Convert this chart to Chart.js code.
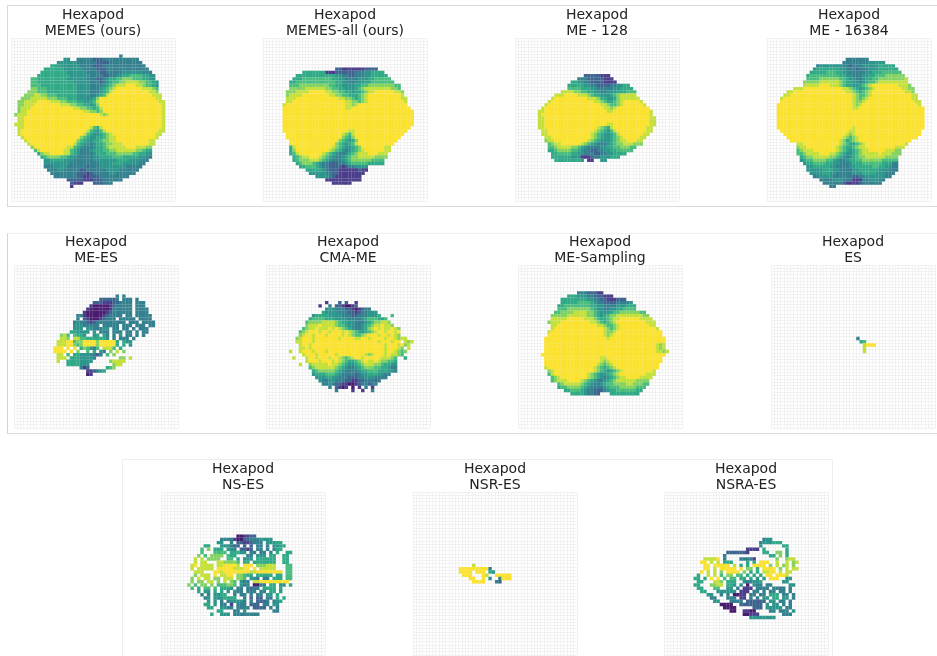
<!DOCTYPE html>
<html>
<head>
<meta charset="utf-8">
<script src="https://cdn.jsdelivr.net/npm/chart.js@4"></script>
<style>
  html, body { margin: 0; padding: 0; background: #fff; overflow: hidden; }
  body { width: 937px; height: 656px; position: relative; }
  canvas { position: absolute; filter: blur(0.6px); }
  .frame { position: absolute; box-sizing: border-box; }
</style>
</head>
<body>
<div class="frame" style="left:7px;top:5px;width:940px;height:202px;border:1px solid #d9d9d9"></div>
<div class="frame" style="left:7px;top:233px;width:940px;height:201px;border:1px solid #f0f0f0;border-left-color:#d4d4d4;border-bottom-color:#dcdcdc"></div>
<div class="frame" style="left:122px;top:459px;width:711px;height:210px;border:1px solid #eeeeee"></div>
<script>
// one string per row, "first column:cells". 0 = dark purple ... 9 = yellow, dot = empty, 9x12 = twelve cells of 9
const memesOurs = [
  '33:3',
  '16:44.. 3x5 2x3 3x11',
  '14:4x6 3x6 2x4 3x10',
  '12:5x3 4x6 3x4 2x3 3x13',
  '10:5x6 4x6 3x4 2x3 3x13',
  '9:5x8 4x6 3x4 2x2 3x5 4x6 3x3',
  '8:5x10 4x6 3x4 2x2 3x2 4x2 5x2 6x4 5x2 4x2',
  '6:6x2 5x9 4x6 3x3 2x2 3 4 5x2 6x2 7x3 6x3 5x2 4x2',
  '6:6x2 5x11 4x5 3x3 2 3 4 5 6x2 7x2 8x4 7x2 6x2 5 4',
  '6:6x3 5x11 4x4 3x3 3 4 5 6 7 8x3 9x3 8x2 7 6x2 5 4',
  '6:7x2 6x3 5x9 4x4 3x3 4 5 6 7 8 9x8 8x3 7 6',
  '5:7x3 6x3 5x9 4x4 3x3 4 5 6 8 9x11 8x2 7',
  '4:7x3 8x2 7x2 6x3 5x6 4x4 3x2 4 5 6 8 9x13 8x3',
  '3:7x3 8x5 7x3 6x3 5x3 4x3 3 4 5 7 9x17 8x2',
  '2:7x2 8x4 9x4 8x3 7x2 6x3 5x2 4x2 5 6 8 9x18 8x2',
  '2:7x2 8x3 9x8 8x3 7x2 6x2 5x2 4 5 7 9x19 8',
  '2:7 8x3 9x13 8x2 7x2 6x2 5 6 8 9x18 8',
  '2:7 8x2 9x17 8x2 7x2 6 7 9x18 8',
  '1:7 8x3 9x22 8 7 8 9x16 8',
  '2:8x2 9x42 8',
  '2:8x2 9x42 8',
  '1:8x3 9x42 8',
  '2:8x2 9x20 8 6 5 8 9x18 8',
  '2:8 9x20 8 6 5 4 6 8 9x16 8x2',
  '2:8 9x19 8 6 5 4 4 5 6 7 8 9x13 8x2',
  '3:8 9x17 7 6 5 4 4 5 5 6 7 8x2 9x12 8',
  '4:8 9x15 7 6 5 4x2 5x2 6 7x2 8x2 9x10 8x2',
  '5:8 9x13 8 6 5 4x2 3 4 5x2 6 7x2 8x3 9x8 8x2',
  '6:7 9x10 8x2 6 5 4 3x3 4 5x2 6 7 8x2 8x3 9x3 8x3 7x2',
  '7:6 8 9x7 8x2 6 5 4 3x3 4 5x3 6x2 7x2 8x6 7x2 6 5x2',
  '8:5 7 8x2 9x4 8x2 6 5 4 3x4 4 5x3 6x3 7x5 6x2 5x2 4x2',
  '9:5 6 7x4 6x2 5 4x2 3x5 4x2 5x4 6x3 5x5 4x2 3x2',
  '10:4x2 5x4 4x3 3x6 4x3 4x4 5x4 4x4 3x2',
  '10:4x8 3x6 3x3 4x4 5x3 4x5 3x2',
  '10:3x3 4x4 3x6 2 3x3 4x5 4x3 3x5',
  '11:3x3 4x2 3x5 2x2 3x6 4x4 3x6',
  '12:3x8 2x3 1 2 3x5 4x2 3x6',
  '13:3x7 2x2 1x2 2x3 3x9',
  '17:2x5 1x3 2x3 3x6',
  '18:2 1x3 .x3 2x3 3x3',
  '18:1'
];
const memesAll = [
  '22:2x2 1x7 2x4',
  '12:5x7 1x3 2x6 3x3 4x2 5x4',
  '10:5x12 4x2 3x2 2x2 3x3 4x2 5x5',
  '9:5x3 6x9 5x2 4x2 3x4 4x3 5x2 6x5',
  '8:5x2 6x12 5x2 4x2 3x2 4x3 5x2 6x7',
  '8:6x3 7x9 6x2 5x2 4x4 5x2 6x2 7x8 6x2',
  '8:7x5 8x6 7x2 6x2 5x2 4x3 5 6 7 8x8 7x2 6',
  '7:7x3 8x4 9x5 8x2 7x2 6x2 5x2 4 5x2 6 7 8x2 9x6 8x2 7',
  '7:7 8x4 9x8 8x2 7x2 6x2 5x3 6 7 8 9x10 8',
  '7:8x3 9x13 8x2 7x2 6 5 6 7 8 9x10 8x2',
  '7:8x2 9x16 8x2 7x2 6 7 8 9x11 8',
  '6:8 9x18 8x2 7 8 9x15',
  '6:9x19 8x2 9x18',
  '6:9x40',
  '6:9x40',
  '6:9x40',
  '6:9x40',
  '6:9x40',
  '6:9x39',
  '6:9x20 8x2 9x16',
  '7:9x17 8 7 6 8 9x15',
  '7:9x17 7 6 5 7 9x14',
  '8:9x15 7 6 5 4 5 7 9x12',
  '8:9x14 7 6 5 4 5 6 8 9x11',
  '8:5 8 9x11 8 7 6 5 4 4 5 6 7 9x7 8x2',
  '8:5 7 9x10 8 7 6 5 4 3 4 5 6 7 8 9x6 8x2',
  '8:5 6 8 9x7 8 7 6 5 4 3x2 4 5 6 7 8x3 9x3 8x3',
  '9:5 6 7 8x2 9x3 8 7 6 5 4 3x2 4 5 6 7x2 8x5 7x4',
  '9:5 6 7x3 8x3 7 6 5 4 3x3 4 5 6 7x6 6x4',
  '10:5 6 7x3 6 5 4 3x2 2x3 3x2 4 5 6x5 5x5',
  '11:5x2 6x3 5 4 3x2 2x4 1 2 3x2 4x4',
  '13:5x5 4 3 2x3 1x6 2 1x2',
  '14:4x5 3x2 2x2 1x8',
  '16:4x4 3 2 1x8',
  '19:1x11',
  '21:1x6'
];
const me128 = [
  '21:2x5 1x3',
  '19:3x3 2x5 1x3',
  '17:5x2 4x2 3x2 2x4 1x4',
  '16:5x5 4x2 3x2 2x4 3x2 4x2 5x2',
  '16:6x4 5x3 4x2 3x5 4x2 5x4',
  '14:8x4 7x2 6x2 5x2 4x2 3x2 4x3 5x3 6x3',
  '12:8x3 9x4 8x3 7 6 5x2 4x3 5 6 7 8x5',
  '11:8 9x10 8x3 7 5x2 4x2 5 7 8x6',
  '10:8 9x13 8x2 7 6 5x2 6 7 8 9x5 8',
  '9:8 9x16 8x2 7 6x2 7 8 9x6 8',
  '8:8 9x18 8x2 7 8 9x10',
  '7:8x2 9x19 8x2 9x11 8',
  '7:8 9x33 8',
  '7:8x2 9x32 8x2',
  '7:8x2 9x32 8x2',
  '7:8x2 9x19 8x2 9x11 8x2',
  '7:8x2 9x16 8 7 6 5 8 9x10 8x2',
  '8:8x2 9x14 8 7 6 5 4 6 8 9x9 8x2',
  '8:8x2 9x13 8 7 6 5 4 4 5 6 8 9x7 8x2',
  '9:8x2 9x12 8 7 6 5 4 4 5 6 7 8 9x5 8x2',
  '9:7 8x2 9x10 8 7 6 5 4x3 5 6 7 8x2 9x3 8x2',
  '10:6 7 8x2 9x6 8 7 6 5 4 3x3 4 5 6 7x2 8x3 7x3',
  '10:6x2 7 8x4 7x2 6 5 4 3x4 4x2 5x2 6x2 7x3 6x2',
  '10:5x2 6 7x4 6x2 5 4 3x2 2x2 3x2 4x2 5x2 6x5',
  '11:5x2 6x4 5x2 4x2 3x3 2x2 3x2 4x2 5x4',
  '11:5x6 4x3 1x3 2 3x2 4x3 5x3',
  '12:5x8 4 . 1x2 .. 4x2'
];
const me16384 = [
  '24:3x7',
  '23:3x8 4x5',
  '15:3 4x7 3x2 2 3x3 4x5 5x5',
  '14:4 5x7 4x2 3x3 2 3x3 4x3 5x6',
  '13:5x5 6x3 5x2 4x2 3x2 3x3 4x2 5x3 6x6',
  '12:5 6x9 5x2 4x2 3x3 4x2 5x2 6x3 7x6',
  '12:6x4 7x6 6x2 5 4x2 3x2 4 5x2 6x2 7x8 8',
  '11:7x5 8x6 7 6 5x2 4x2 3 4 5 6x2 7 8x9',
  '11:8x5 9x3 8x3 7 6 5x2 4 4 5 6 7 8 9x8 8x3 7',
  '8:8x3 9x12 8x2 7 6 5 4 5 6 7 8 9x8 8x2 7x2',
  '6:8x2 9x16 8x2 7 6 5 6 7 8 9x10 8x2 7',
  '5:8x2 9x19 8 7 6 6 7 8 9x12 8x2',
  '4:8 9x21 8 7 6 7 8 9x13 8x2',
  '4:9x22 8 7 7 8 9x15 8x2',
  '3:9x23 8 7 8 9x17 8',
  '3:9x23 8x2 9x20',
  '3:9x45',
  '3:9x45',
  '3:9x45',
  '3:9x45',
  '3:9x45',
  '3:9x23 8 9x21',
  '4:9x21 8x2 9x20',
  '5:9x19 8 7 8 9x20',
  '6:9x17 8 7 6 7 8 9x18',
  '7:9x15 8 7 5 6 7 8 9x16',
  '9:8x2 9x11 8 7 6 5 5 6 7 8 9x12 8',
  '9:7 8x2 9x9 8 7 6 5x2 6 7 8 8 9x9 8x3',
  '9:6 7 8x3 9x7 8 7 6 5 4 5 6 7 8x2 9x5 8x3 7x2',
  '9:6x2 7 8x4 9x3 8x2 7 6 5 4 4 5 6 7 8x5 9 8x3 7x3',
  '10:5 6 7x2 8x5 7x2 6 5 4 3 4 5 6 7x2 8x6 7x4',
  '10:4 5 6x2 7x4 6x2 5 4 3x2 4 5x2 6x2 7x6 6x5',
  '11:4 5x2 6x4 5x2 4x2 3x3 4 5x3 6x6 5x3 3x2',
  '12:4x2 5x5 4x2 3x4 4x2 5x5 6x2 5x2 4x2 3x2',
  '12:4x5 5x3 4x2 3x4 4x2 5x6 4x3 3x3',
  '13:4x4 5x2 4x2 3x5 4x3 5x4 4x3 3x3',
  '14:3x2 4x4 3x6 2x2 3x2 4x6 3x2',
  '16:3x4 4x3 3x3 1x3 3x2 4x3 3x2',
  '17:3x6 2 1x4 2 3x6',
  '19:3x2'
];
const meEs = [
  '31:3.3',
  '26:2x5 3 . 3x3 . 3',
  '24:2x3 1x3 2x2 3x4 . 3x3',
  '23:1 0x5 1 2 3x5 . 3x3',
  '22:1 0x6 1 3 3x5 . 3x4',
  '21:1 0x6 1 2 3x6 . 3x4',
  '19:3 3 1 0x5 1 2 3x4 . 3x2 . 3x5',
  '19:3 . 2 1 0x3 1 2 3x3 . 3x5 . 3x4',
  '18:3 4 3x2 2 1 2 3x9 . 3x3 . 3x4',
  '18:4x3 3x4 3 . 3x5 . 3x3 . 3x3 . 3x2',
  '18:4x3 . 4x2 3x3 4 4 . 3x2 . 3x2 . 3 . 3x3',
  '17:5 5 4x4 . 4 . 3x3 . 3x3 . 3x2 . 3 . 3x2',
  '14:786.6554..45.53.3.4.33.3.3',
  '14:887.8866555555 4.3.333.3',
  '13:8x3 9x2 677 9x4 7 9x5 5 . 5 4 4',
  '13:8x3 9x2 7 6 7 9x4 7 9x5 5 . 5 . 4',
  '12:9x3 . 9 . 9 . 5 7 6 4 3 6 . 8x3 6 . 5',
  '12:9x4 . 9 . 7 .. 6 . 5 . 4 3 . 7 . 8 . 7',
  '13:8 8 . 6 . 5 5 4 4 4 3 3 2 3 . 6 . 7',
  '13:888.55544443.......77.8',
  '13:8..5x4 4x4 .x5 7 8x4',
  '16:5x4 4x3 .x7 7 8 8',
  '20:3 1 2 .x5 5 6 7',
  '22:1 1 2 3 4 5',
  '22:0 1'
];
const cmaMe = [
  '18:1...2.2..1',
  '16:1..3.2 2 1 0 0 1 2',
  '18:4x3 3x3 2x2 1 0 1 2 3x2',
  '17:5 4x4 3x3 2x2 1 2 3 3 4x3',
  '14:4 5x4 4x4 3x3 2x2 3 3x2 4x3 5 .x3 6',
  '13:5 6x4 5x3 4x4 3x3 3 4 5 6x3 5x2 6',
  '12:6 7x4 8x4 7 6 5x2 4x2 3x3 4 5 6 7x2 8x2 7',
  '12:7 8x3 9 8x4 7 6x2 5 4x2 3x2 4 5 6 7 8x2 9 8x2 7',
  '11:6 7 8x2 9 8x3 9 8 9 8 7 6 5 4 3x2 4 5 7 8 9 8 9 8x2 9 8 7',
  '10:6 7 8 9x3 8 9x2 8 9x3 8 9 8 7 6 5 4 5 6 7 8 9x2 8 9x2 8 9',
  '10:7 8 9x2 8 9x3 8 9x4 8 9 8 7 6 6 7 8 9x3 8 9x2 8 9 8 7',
  '9:7 8 9x3 8 9x7 8 9x4 8 8 9x2 8 9x4 8 9x2 8 7 8 8',
  '9:8x2 9x3 8 9x19 8 9x3 8 9x2 . 8 7 8',
  '10:8 9x2 8 9x22 8 9x3 8 9 7 8',
  '10:8x2 9 8 9x22 8 9x3 8 7 . 8',
  '7:8.. 8 9x3 8 9x3 8 9x17 8 9x2 8 7 6 7',
  '11:8 9x3 8 9x5 8 9x8 8 7 8 9x3 8 9 8x2 7 6',
  '8:8... 8 9x2 8 9x3 8 9x2 8 7 6 7 8 9x2 8 9x5 8x3 7 6 .. 5',
  '12:8 9x3 8 9x3 8 9 8 7 6 5 5 6 7 8 9 8x2 9 8 7x2 6x2 5',
  '10:8.. 7 8x5 9 8x2 7 6 5 4 4 5 6 7 8x3 7x2 6 5 5 4x2',
  '13:6 7 8x6 7 6 5 4 3x2 4 5 6 7x3 6x2 5x2 4 3 3',
  '14:5 6 7x5 6 5 4 3x4 4 5 5 6x3 5x3 4x2 3',
  '14:4 5x3 6x3 5 4 3x4 2 3 4x2 5x3 4x2 3 3',
  '15:4x3 5x2 4x2 3x3 2x3 3x2 4x3 3x4',
  '16:4 3x2 4x2 3x3 2x2 1x2 2x2 3x3 2 3',
  '17:3x2 4 3 2x2 1x2 0x2 1 2 3x2 2 3x2',
  '19:3 . 2 1 0 1 . 0 . 1 . 3 . 1',
  '21:3....1..1..3'
];
const meSampling = [
  '18:3x3 2x3 1x2',
  '15:5x3 4x3 3x2 2x3 1x3',
  '13:5x8 4x2 3x2 2x2 1x3 2x3',
  '13:5x5 6x4 5 4 3x2 2x4 3x4 4',
  '12:5x2 6x8 5x2 4x2 3x4 4x3 5x3',
  '12:6x3 7x7 6 5 4x2 3x2 4x2 5x2 6x4',
  '11:6x2 7x4 8x4 7x2 6 5 4x3 5 6x2 7x6 6x2',
  '10:7x5 8x6 7x2 6 5 4 5 6 7x2 8x8 7x2',
  '10:8x5 9x5 8x3 7 6 5x2 6 7 8x2 9x6 8x4',
  '9:7 8x3 9x9 8x2 7 6 5 6 7 8 9x9 8x3',
  '10:8x2 9x12 8x2 7 6 6 7 8 9x9 8x2',
  '10:8 9x15 8 7 6 7 8 9x11 8',
  '9:8 9x16 8 7 7 8 9x14',
  '9:9x17 8 7 8 9x15',
  '8:9x19 8 9x17',
  '8:9x37',
  '8:9x34 8 7 8',
  '8:9x34 8 7 8',
  '8:9x34 8 8 7 8',
  '7:9x38',
  '8:9x17 8 8 9x17',
  '8:9x17 8 7 8 9x16',
  '8:9x16 8 7 6 7 8 9x14',
  '8:8 9x14 8 7 6 5 6 7 8 9x13',
  '9:7 8 9x12 8 7 6 5 4 5 6 7 8 9x9 8',
  '9:6 8 9x10 8 7 6 5 4 4 5 6 7 8 9x8 8x3',
  '10:6 7 8 9x8 8 7 6 5 4 3 4 5 6 7 8x2 9x4 8x4',
  '10:6 7 8x3 9x4 8 7 6 5 4 3x2 4 5 6 7 8x6 7x4',
  '12:6 7 8x5 7 6 5 4 3x2 4 5 6x2 7x4 8x2 7x3 6x2',
  '12:5 6x2 7x4 6 5 4 3x3 3 4 5 6x3 7x5 6x3',
  '14:5x2 6x3 5 4 3x2 2x3 3 4 5x2 6x6 5x2',
  '16:5x4 4 3x2 2x2 .x3 5x9'
];
const esCells = [
  '26:3',
  '27:5 6',
  '28:8 9x3',
  '28:8',
  '28:8'
];
const nsEs = [
  '23:001122',
  '18:3333100223334444',
  '17:44..3.22112333.44455',
  '13:55...444322.2.2.33.3.4455',
  '12:6.7.555.443.2212.33.3.355',
  '12:6...6666.55544.33.33.3.5..55',
  '11:7.6.7777.655...33.444.55..55',
  '10:8.8.7777..66.5.444.555555..55',
  '10:8.88...8877776.55.5555555..55',
  '9:89.8888.8899998.999.777888...66',
  '9:8.88888.9999988899.9.88888...66',
  '9:.888...998 9x8 88 9x8 . 66',
  '10:7.888.9.8899.77655.55555.55.66',
  '9:7.8.88.77.888.776.443.33.555.66',
  '9:7.77.88.7.8.76.433.8x2 9x9',
  '8:7.6.77.7.666776.433.0033.55.44.5',
  '9:6.5.66.6.5554.33.3233.5555.5',
  '11:5.44.5.5.4.433.333.33.55.4',
  '12:3.3.4455..3.33.3.33.44.5',
  '13:34.4445555..3.2.22.33.5.5',
  '14:4.4.3.344443.3.2223.345',
  '13:55.4.33.1.333.222.33.44',
  '14:55..4433.3333.2222.3.3',
  '17:55...33.4........33',
  '15:5..4x3 . 3x8'
];
const nsrEs = [
  '18:8',
  '14:9x9 3',
  '14:9x4 . 9x3 . 5 4',
  '15:9x3 ... 9 8 .. 9x5',
  '17:9 9 .. 9 . 4 .. 3 9x3',
  '18:9x4 ... 3 2'
];
const nsraEs = [
  '30:344',
  '29:3444555',
  '29:4......55',
  '25:1111.5......5',
  '19:2x6 1 .x4 5 5 .. 7 7 . 5',
  '18:3 .x13 5 5 . 7 . 5',
  '12:8x4 9 . 3 .x4 3x4 1 .x6 7 .. 7 8 8',
  '11:99.8.8.555....5.5.999..8..8.78',
  '12:99.99999.8.5.5.9999.7.8.78.7',
  '12:99.8.99999.9.77.5.9999.7.8.88',
  '11:9.8.8.7.9999.7.5.5.8899.8.88',
  '10:5..8.8.6.77.66.5.5.5.99.9998',
  '9:55.5.9.9.6.66.55.5.4.4.999..44',
  '10:55...887.555..433445......44',
  '9:55...7788.554.4.0.433.33.....44',
  '10:55...66..44.3.111.3333.3333.3',
  '11:55...444444.111.33.3.33.33.3',
  '13:44..3.3.0011.33.33.555.33.3',
  '14:33...333.11.3.3.44.55.44.3',
  '15:44...3333.222222.44.33.3',
  '17:0x4 .. 2x7 . 4 . 4x2 . 3 . 3',
  '18:0x4 .x5 2x3 . 4x5 . 3x2',
  '20:0x2 .x2 1x2 0x2 .x4 3x2 . 3x3 . 4',
  '24:00111.......333',
  '26:4x8'
];

const panelCells = [memesOurs, memesAll, me128, me16384, meEs, cmaMe, meSampling, esCells, nsEs, nsrEs, nsraEs];
const panelTitles = ['MEMES (ours)', 'MEMES-all (ours)', 'ME - 128', 'ME - 16384', 'ME-ES', 'CMA-ME', 'ME-Sampling', 'ES', 'NS-ES', 'NSR-ES', 'NSRA-ES'];
const panelFirstRow = [5, 9, 11, 6, 9, 11, 8, 22, 13, 22, 14];
const gridLefts = [11, 263, 515, 767, 14, 266, 518, 771, 161, 413, 664];
const gridTops = [38, 38, 38, 38, 265, 265, 265, 265, 492, 492, 492];
const viridis = ['#4a1c70', '#4b3f8c', '#3e6490', '#33808f', '#2d968c', '#30a987', '#48bd7e', '#84d362', '#c4e03a', '#fbe22f'];

panelCells.forEach(function(rows, i) {
  const canvas = document.createElement('canvas');
  canvas.width = 184;
  canvas.height = 207;
  canvas.style.left = (gridLefts[i] - 10) + 'px';
  canvas.style.top = (gridTops[i] - 40) + 'px';
  document.body.appendChild(canvas);

  const points = [];
  const colors = [];
  rows.forEach(function(row, r) {
    const parts = row.split(':');
    let col = parseInt(parts[0]);
    for (const m of parts[1].matchAll(/([0-9.])(?:x(\d+))?/g)) {
      const n = m[2] ? parseInt(m[2]) : 1;
      for (let k = 0; k < n; k++) {
        if (m[1] !== '.') {
          points.push({ x: col + 0.5, y: panelFirstRow[i] + r + 0.5 });
          colors.push(viridis[parseInt(m[1])]);
        }
        col++;
      }
    }
  });

  const gridLines = {
    color: '#f1f1f1',
    lineWidth: 1,
    drawTicks: false
  };

  new Chart(canvas.getContext('2d'), {
    type: 'scatter',
    data: {
      datasets: [{
        data: points,
        backgroundColor: colors,
        pointStyle: 'rect',
        pointRadius: 2.4,
        borderWidth: 0
      }]
    },
    options: {
      responsive: false,
      animation: false,
      layout: { padding: { left: 10, right: 10, bottom: 2 } },
      plugins: {
        legend: { display: false },
        tooltip: { enabled: false },
        title: {
          display: true,
          text: ['Hexapod', panelTitles[i]],
          color: '#222',
          font: { family: 'DejaVu Sans', size: 14, weight: 'normal', lineHeight: 1.15 },
          padding: { top: 9, bottom: -1 }
        }
      },
      scales: {
        x: {
          min: 0,
          max: 50,
          grid: gridLines,
          border: { display: false },
          ticks: { display: false, stepSize: 1, autoSkip: false }
        },
        y: {
          min: 0,
          max: 50,
          reverse: true,
          grid: gridLines,
          border: { display: false },
          ticks: { display: false, stepSize: 1, autoSkip: false }
        }
      }
    }
  });
});
</script>
</body>
</html>
